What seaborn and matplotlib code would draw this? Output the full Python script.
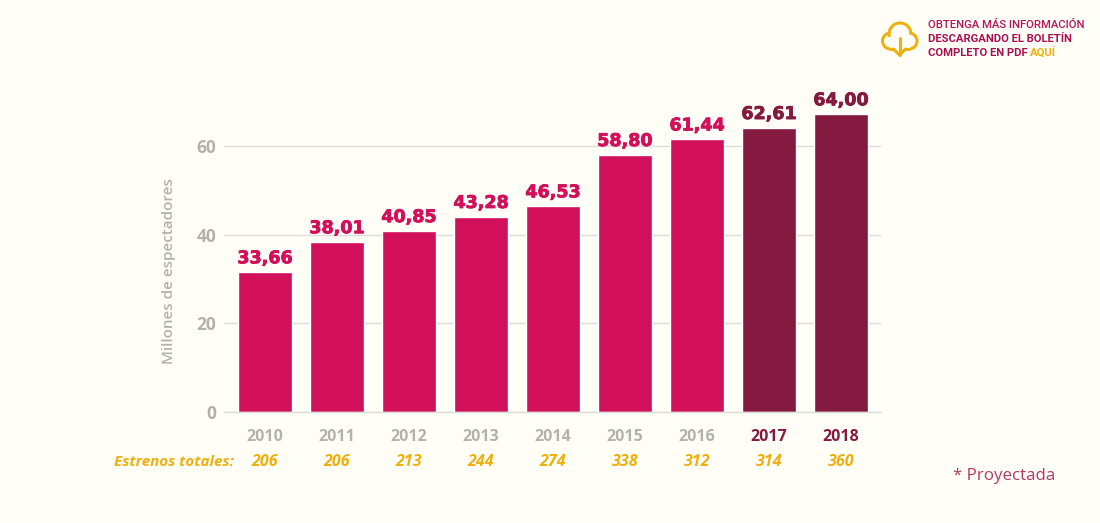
import matplotlib
matplotlib.use('Agg')
import matplotlib.pyplot as plt
import matplotlib.patheffects as pe
import matplotlib.transforms as mtrans
from matplotlib.patches import Arc
import pandas as pd
import seaborn as sns

#values
years = ['2010', '2011', '2012', '2013', '2014', '2015', '2016', '2017', '2018']
bar_heights = [31.6, 38.4, 40.9, 44.1, 46.5, 58.1, 61.6, 64.2, 67.3]
value_labels = ['33,66', '38,01', '40,85', '43,28', '46,53', '58,80', '61,44', '62,61', '64,00']
estrenos = ['206', '206', '213', '244', '274', '338', '312', '314', '360']
projected = [False, False, False, False, False, False, False, True, True]

BG = '#fffff8'
PINK = '#d2105a'
WINE = '#841a40'
GRAY = '#b3b1ae'
GOLD = '#efb00f'

sns.set_theme(style='white')
plt.rcParams['font.family'] = ['Open Sans', 'DejaVu Sans']

df = pd.DataFrame({'year': years, 'height': bar_heights, 'projected': projected})

W, H = 1100, 523
fig = plt.figure(figsize=(W / 100, H / 100), dpi=100, facecolor=BG)
# axes box in pixels: x 224-881, y 102-412
ax = fig.add_axes([224 / W, 1 - 412 / H, (881 - 224) / W, 310 / H], facecolor=BG)

sns.barplot(data=df, x='year', y='height', hue='projected', dodge=False,
            palette={False: PINK, True: WINE}, width=0.76, saturation=1,
            legend=False, ax=ax)

ax.set_xlim(-0.57, 8.555)
ax.set_ylim(0, 70.05)
ax.set_yticks([0, 20, 40, 60])
ax.yaxis.grid(True, color='#dddcd8', linewidth=1)
ax.set_axisbelow(True)
sns.despine(ax=ax, left=True, top=True, right=True)
ax.spines['bottom'].set_color('#dddcd8')
ax.spines['bottom'].set_linewidth(1)
ax.tick_params(axis='y', length=0, pad=5.5, labelsize=12.5, labelcolor=GRAY)
ax.tick_params(axis='x', length=0, pad=12.5, labelsize=11.5, labelcolor=GRAY)
for t in ax.get_yticklabels():
    t.set_fontweight('bold')
for t, proj in zip(ax.get_xticklabels(), projected):
    t.set_fontweight('bold')
    t.set_color(WINE if proj else GRAY)
ax.set_xlabel('')
ax.set_ylabel('Millones de espectadores', fontsize=11, fontweight='semibold',
              color=GRAY, labelpad=0)
ax.yaxis.set_label_coords((176 - 224) / (881 - 224), 0.455)

#value labels above bars, estrenos row under the years
row = mtrans.blended_transform_factory(ax.transData, fig.transFigure)
for i, (h, lab, est, proj) in enumerate(zip(bar_heights, value_labels, estrenos, projected)):
    color = WINE if proj else PINK
    ax.annotate(lab, (i, h), xytext=(0, 3.5), textcoords='offset points', ha='center',
                va='bottom', family='DejaVu Sans', fontsize=12.6, fontweight='bold',
                color=color, clip_on=False,
                path_effects=[pe.withStroke(linewidth=0.6, foreground=color)])
    ax.text(i, 1 - 462 / H, est, transform=row, ha='center', va='center', fontsize=11.5,
            fontweight='bold', style='italic', color=GOLD)
fig.text(234 / W, 1 - 462 / H, 'Estrenos totales:', ha='right', va='center', fontsize=10.9,
         fontweight='bold', style='italic', color=GOLD)

fig.text(1055 / W, 1 - 476 / H, '* Proyectada', ha='right', va='center', fontsize=12.2,
         color='#b03a68')

#download note, top right
note_x = 928 / W
fig.text(note_x, 1 - 24.5 / H, 'OBTENGA MÁS INFORMACIÓN', family='Roboto', fontsize=8.1,
         fontweight='medium', color='#b5145c', va='center')
fig.text(note_x, 1 - 38.5 / H, 'DESCARGANDO EL BOLETÍN', family='Roboto', fontsize=8.1,
         fontweight='bold', color='#a81050', va='center')
t1 = fig.text(note_x, 1 - 52.5 / H, 'COMPLETO EN PDF ', family='Roboto', fontsize=8.1,
              fontweight='bold', color='#a81050', va='center')
fig.canvas.draw()
bb = t1.get_window_extent()
fig.text(bb.x1 / W, 1 - 52.5 / H, 'AQUÍ', family='Roboto', fontsize=8.1, fontweight='bold',
         color=GOLD, va='center')

#cloud icon, overlay axes in pixel coordinates
icon = fig.add_axes([0, 0, 1, 1], facecolor='none')
icon.set_xlim(0, W)
icon.set_ylim(H, 0)
icon.axis('off')
kw = dict(color=GOLD, linewidth=2.2, fill=False)
icon.add_patch(Arc((890.5, 41), 16, 16, theta1=90, theta2=270, **kw))
icon.add_patch(Arc((900, 34), 22, 22, theta1=165, theta2=350, **kw))
icon.add_patch(Arc((909, 41), 16, 16, theta1=-90, theta2=80, **kw))
icon.plot([890, 893], [49, 49], color=GOLD, lw=2.2, solid_capstyle='round')
icon.plot([906, 909], [49, 49], color=GOLD, lw=2.2, solid_capstyle='round')
icon.plot([899.5, 899.5], [38, 55], color=GOLD, lw=2.2, solid_capstyle='round')
icon.plot([893.5, 899.5, 905.5], [49, 55, 49], color=GOLD, lw=2.2, solid_capstyle='round',
          solid_joinstyle='round')

fig.savefig('out.png', dpi=100, facecolor=BG)
